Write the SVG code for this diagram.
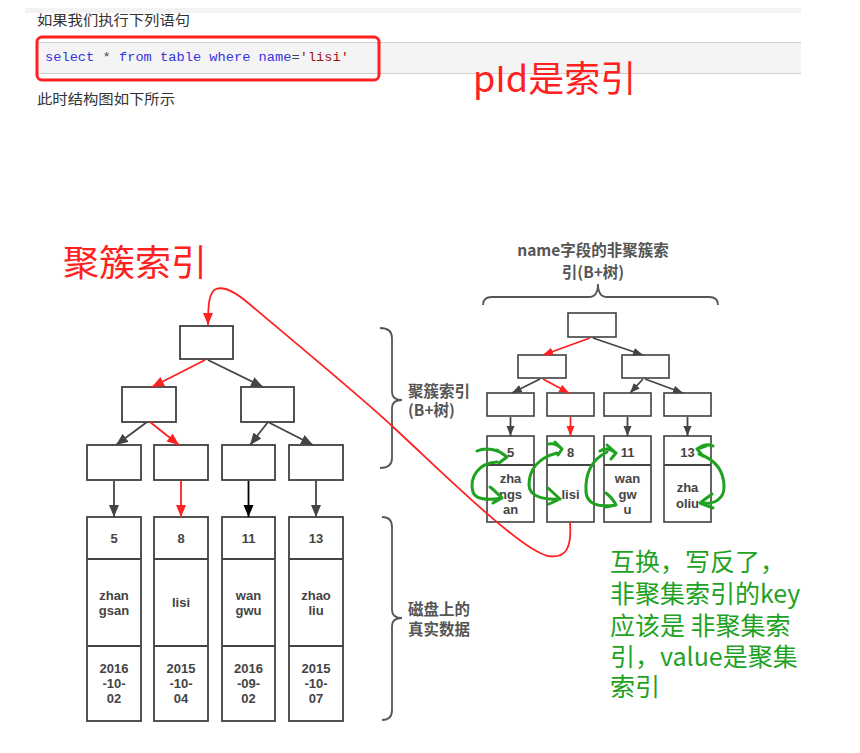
<svg xmlns="http://www.w3.org/2000/svg" width="860" height="753" viewBox="0 0 860 753">
<style>
.box{fill:#fff;stroke:#404040;stroke-width:1.8}
.rbox{fill:#fff;stroke:#404040;stroke-width:1.6}
.t{font-family:"Liberation Sans","Open Sans","Noto Sans CJK SC",sans-serif;font-weight:700;font-size:13px;fill:#444;text-anchor:middle}
.lbl{font-family:"Noto Sans CJK SC","Open Sans",sans-serif;font-weight:700;font-size:15.5px;fill:#555}
.g{fill:none;stroke:#444;stroke-width:1.8}
.r{fill:none;stroke:#ff2020;stroke-width:1.8}
.k{fill:none;stroke:#000;stroke-width:1.8}
.gr{fill:none;stroke:#1fa21f;stroke-width:3;stroke-linecap:round;stroke-linejoin:round}
.brace{fill:none;stroke:#555;stroke-width:1.8}
.cn{font-family:"Noto Sans CJK SC",sans-serif;font-size:14px;fill:#333}
</style>
<defs>
<marker id="ag" markerUnits="userSpaceOnUse" markerWidth="13" markerHeight="11" refX="12" refY="5" orient="auto"><path d="M0,0 L12,5 L0,10 z" fill="#444"/></marker>
<marker id="ar" markerUnits="userSpaceOnUse" markerWidth="13" markerHeight="11" refX="12" refY="5" orient="auto"><path d="M0,0 L12,5 L0,10 z" fill="#ff2020"/></marker>
<marker id="ak" markerUnits="userSpaceOnUse" markerWidth="13" markerHeight="11" refX="12" refY="5" orient="auto"><path d="M0,0 L12,5 L0,10 z" fill="#000"/></marker>
<marker id="sg" markerUnits="userSpaceOnUse" markerWidth="11" markerHeight="9" refX="10" refY="4" orient="auto"><path d="M0,0 L10,4 L0,8 z" fill="#444"/></marker>
<marker id="sr" markerUnits="userSpaceOnUse" markerWidth="11" markerHeight="9" refX="10" refY="4" orient="auto"><path d="M0,0 L10,4 L0,8 z" fill="#ff2020"/></marker>
</defs>
<rect width="860" height="753" fill="#fff"/>

<!-- top text area -->
<g id="header">
<rect x="25" y="8" width="776" height="5" fill="#f3f3f3"/>
<text class="cn" x="37" y="25" textLength="153" lengthAdjust="spacingAndGlyphs">如果我们执行下列语句</text>
<rect x="37" y="42" width="764" height="31" fill="#f4f4f4"/>
<line x1="37" y1="42.5" x2="801" y2="42.5" stroke="#cfcfcf" stroke-width="1"/>
<line x1="37" y1="73.5" x2="801" y2="73.5" stroke="#cfcfcf" stroke-width="1"/>
<rect x="37" y="37" width="342" height="43" rx="5" fill="none" stroke="#ff2020" stroke-width="3"/>
<text x="45" y="61" font-family="'Liberation Mono',monospace" font-size="13.7" fill="#3535e0" xml:space="preserve">select<tspan fill="#444"> * </tspan>from table where name<tspan fill="#444">=</tspan><tspan fill="#a31515">'lisi'</tspan></text>
<text class="cn" x="37" y="104" textLength="138" lengthAdjust="spacingAndGlyphs">此时结构图如下所示</text>
<text x="473" y="92" font-family="'Noto Sans CJK SC',sans-serif" font-size="36" fill="#ff2020">pId是索引</text>
</g>

<text id="title-clustered" x="63" y="276" font-family="'Noto Sans CJK SC',sans-serif" font-size="36" fill="#ff2020">聚簇索引</text>

<!-- left tree nodes -->
<g id="L-root"><rect class="box" x="180" y="326" width="53" height="33"/></g>
<g id="L-l2a"><rect class="box" x="122" y="387" width="54" height="35"/></g>
<g id="L-l2b"><rect class="box" x="241" y="387" width="53" height="35"/></g>
<g id="L-l3a"><rect class="box" x="87" y="445" width="54" height="35"/></g>
<g id="L-l3b"><rect class="box" x="154" y="445" width="54" height="35"/></g>
<g id="L-l3c"><rect class="box" x="222" y="445" width="53" height="35"/></g>
<g id="L-l3d"><rect class="box" x="289" y="445" width="54" height="35"/></g>

<g id="D-5">
<rect class="box" x="87" y="517" width="54" height="204"/>
<line class="g" x1="87" y1="559" x2="141" y2="559"/><line class="g" x1="87" y1="646" x2="141" y2="646"/>
<text class="t" x="114" y="543">5</text>
<text class="t" x="114" y="600">zhan</text><text class="t" x="114" y="615">gsan</text>
<text class="t" x="114" y="673">2016</text><text class="t" x="114" y="688">-10-</text><text class="t" x="114" y="703">02</text>
</g>
<g id="D-8">
<rect class="box" x="154" y="517" width="54" height="204"/>
<line class="g" x1="154" y1="559" x2="208" y2="559"/><line class="g" x1="154" y1="646" x2="208" y2="646"/>
<text class="t" x="181" y="543">8</text>
<text class="t" x="181" y="607">lisi</text>
<text class="t" x="181" y="673">2015</text><text class="t" x="181" y="688">-10-</text><text class="t" x="181" y="703">04</text>
</g>
<g id="D-11">
<rect class="box" x="222" y="517" width="53" height="204"/>
<line class="g" x1="222" y1="559" x2="275" y2="559"/><line class="g" x1="222" y1="646" x2="275" y2="646"/>
<text class="t" x="248.5" y="543">11</text>
<text class="t" x="248.5" y="600">wan</text><text class="t" x="248.5" y="615">gwu</text>
<text class="t" x="248.5" y="673">2016</text><text class="t" x="248.5" y="688">-09-</text><text class="t" x="248.5" y="703">02</text>
</g>
<g id="D-13">
<rect class="box" x="289" y="517" width="54" height="204"/>
<line class="g" x1="289" y1="559" x2="343" y2="559"/><line class="g" x1="289" y1="646" x2="343" y2="646"/>
<text class="t" x="316" y="543">13</text>
<text class="t" x="316" y="600">zhao</text><text class="t" x="316" y="615">liu</text>
<text class="t" x="316" y="673">2015</text><text class="t" x="316" y="688">-10-</text><text class="t" x="316" y="703">07</text>
</g>

<!-- braces and labels -->
<g id="brace-clustered">
<path class="brace" d="M380,328 C388,328 392,331 392,338 L392,392 C392,397 395,400 402,400 C395,400 392,403 392,408 L392,458 C392,465 388,468 380,468"/>
<text class="lbl" x="408" y="397">聚簇索引</text>
<text class="lbl" x="408" y="416">(B+树)</text>
</g>
<g id="brace-disk">
<path class="brace" d="M382,517 C389,517 392,520 392,527 L392,610 C392,615 395,618 402,618 C395,618 392,621 392,626 L392,710 C392,717 389,720 382,720"/>
<text class="lbl" x="408" y="615">磁盘上的</text>
<text class="lbl" x="408" y="635">真实数据</text>
</g>
<g id="brace-secondary">
<path class="brace" d="M483,305 C483,299 486,297 492,297 L589,297 C595,297 598,293 598,284 C598,293 601,297 607,297 L709,297 C715,297 718,299 718,305"/>
<text class="lbl" x="593" y="256" text-anchor="middle">name字段的非聚簇索</text>
<text class="lbl" x="593" y="278" text-anchor="middle">引(B+树)</text>
</g>

<!-- right tree nodes -->
<g id="R-root"><rect class="rbox" x="568" y="313" width="48" height="24"/></g>
<g id="R-l2a"><rect class="rbox" x="518" y="355" width="48" height="23"/></g>
<g id="R-l2b"><rect class="rbox" x="622" y="355" width="47" height="23"/></g>
<g id="R-l3a"><rect class="rbox" x="487" y="393" width="47" height="23"/></g>
<g id="R-l3b"><rect class="rbox" x="547" y="393" width="47" height="23"/></g>
<g id="R-l3c"><rect class="rbox" x="604" y="393" width="47" height="23"/></g>
<g id="R-l3d"><rect class="rbox" x="664" y="393" width="47" height="23"/></g>
<g id="R-5">
<rect class="rbox" x="487" y="436" width="47" height="86"/><line class="g" x1="487" y1="465" x2="534" y2="465" stroke-width="1.6"/>
<text class="t" x="510.5" y="457">5</text>
<text class="t" x="510.5" y="483">zha</text><text class="t" x="510.5" y="499">ngs</text><text class="t" x="510.5" y="514">an</text>
</g>
<g id="R-8">
<rect class="rbox" x="547" y="436" width="47" height="86"/><line class="g" x1="547" y1="465" x2="594" y2="465" stroke-width="1.6"/>
<text class="t" x="570.5" y="457">8</text>
<text class="t" x="570.5" y="499">lisi</text>
</g>
<g id="R-11">
<rect class="rbox" x="604" y="436" width="47" height="86"/><line class="g" x1="604" y1="465" x2="651" y2="465" stroke-width="1.6"/>
<text class="t" x="627.5" y="457">11</text>
<text class="t" x="627.5" y="483">wan</text><text class="t" x="627.5" y="499">gw</text><text class="t" x="627.5" y="514">u</text>
</g>
<g id="R-13">
<rect class="rbox" x="664" y="436" width="47" height="86"/><line class="g" x1="664" y1="465" x2="711" y2="465" stroke-width="1.6"/>
<text class="t" x="687.5" y="457">13</text>
<text class="t" x="687.5" y="492">zha</text><text class="t" x="687.5" y="508">oliu</text>
</g>

<!-- connectors -->
<g id="connectors">
<line class="r" x1="205" y1="360" x2="152" y2="387" marker-end="url(#ar)"/>
<line class="g" x1="208" y1="360" x2="263" y2="387" marker-end="url(#ag)"/>
<line class="g" x1="147" y1="422" x2="116" y2="445" marker-end="url(#ag)"/>
<line class="r" x1="150" y1="422" x2="179" y2="445" marker-end="url(#ar)"/>
<line class="g" x1="268" y1="422" x2="250" y2="445" marker-end="url(#ag)"/>
<line class="g" x1="268" y1="422" x2="313" y2="445" marker-end="url(#ag)"/>
<line class="g" x1="114" y1="481" x2="114" y2="517" marker-end="url(#ag)"/>
<line class="r" x1="181" y1="481" x2="181" y2="517" marker-end="url(#ar)"/>
<line class="k" x1="248.5" y1="481" x2="248.5" y2="517" marker-end="url(#ak)"/>
<line class="g" x1="316" y1="481" x2="316" y2="517" marker-end="url(#ag)"/>

<line class="r" x1="590" y1="338" x2="543" y2="355" stroke-width="1.6" marker-end="url(#sr)"/>
<line class="g" x1="593" y1="338" x2="643" y2="355" stroke-width="1.6" marker-end="url(#sg)"/>
<line class="g" x1="540" y1="379" x2="512" y2="393" stroke-width="1.6" marker-end="url(#sg)"/>
<line class="r" x1="543" y1="379" x2="569" y2="393" stroke-width="1.6" marker-end="url(#sr)"/>
<line class="g" x1="643" y1="379" x2="630" y2="393" stroke-width="1.6" marker-end="url(#sg)"/>
<line class="g" x1="645" y1="379" x2="683" y2="393" stroke-width="1.6" marker-end="url(#sg)"/>
<line class="g" x1="510.5" y1="417" x2="510.5" y2="436" stroke-width="1.6" marker-end="url(#sg)"/>
<line class="r" x1="570.5" y1="417" x2="570.5" y2="436" stroke-width="1.6" marker-end="url(#sr)"/>
<line class="g" x1="627.5" y1="417" x2="627.5" y2="436" stroke-width="1.6" marker-end="url(#sg)"/>
<line class="g" x1="687.5" y1="417" x2="687.5" y2="436" stroke-width="1.6" marker-end="url(#sg)"/>

<path class="r" d="M570,522 C572,548 566,559 548,556 C520,550 440,470 392,426 C360,396 280,330 247,302 C235,292 224,286 216,289 C209,292 208,305 208,325" marker-end="url(#ar)"/>
</g>

<!-- green hand-drawn swap marks -->
<g id="swap-marks">
<path class="gr" d="M477,451 C486,447 498,449 507,457 M497,450 L507,457 L499,463"/>
<path class="gr" d="M497,462 C478,463 469,478 473,492 C476,501 490,500 502,498 M490,487 C494,490 498,494 502,498 L493,503"/>
<path class="gr" d="M549,444 C553,443 558,445 562,449 M555,442 L562,449 L558,455"/>
<path class="gr" d="M557,453 C538,458 529,470 529,485 C529,497 545,500 560,499 M548,488 L560,499 L549,504"/>
<path class="gr" d="M600,451 C605,448 611,449 616,453 M607,445 L616,453 L611,459"/>
<path class="gr" d="M607,452 C591,460 585,475 586,492 C587,503 596,508 616,505 M606,493 C611,497 614,501 616,505 L606,507"/>
<path class="gr" d="M697,449 C703,445 709,444 713,446 M697,449 L706,446 M697,449 L703,456"/>
<path class="gr" d="M699,454 C716,460 724,472 724,487 C724,498 716,505 700,503 M700,503 L712,494 M700,503 L713,508"/>
</g>

<g id="note">
<text font-family="'Noto Sans CJK SC',sans-serif" font-size="25" fill="#1fa21f">
<tspan x="610" y="571">互换，写反了，</tspan>
<tspan x="610" y="603">非聚集索引的key</tspan>
<tspan x="610" y="635">应该是 非聚集索</tspan>
<tspan x="610" y="666">引，value是聚集</tspan>
<tspan x="610" y="696">索引</tspan>
</text>
</g>
</svg>
